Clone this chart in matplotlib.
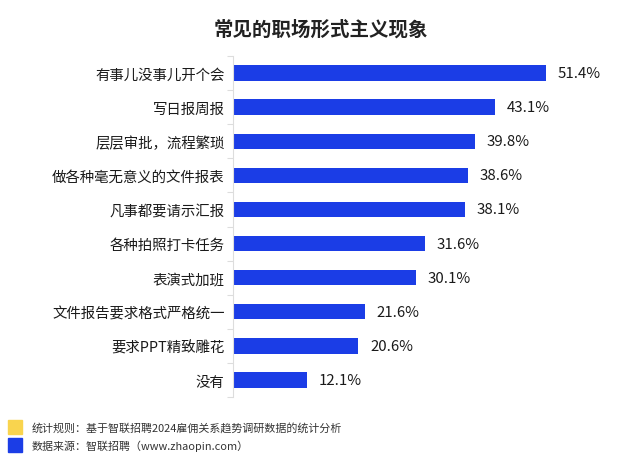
import matplotlib.pyplot as plt
import numpy as np

plt.rcParams['font.family'] = ['Noto Sans CJK SC', 'DejaVu Sans']

categories = ['有事儿没事儿开个会', '写日报周报', '层层审批，流程繁琐', '做各种毫无意义的文件报表',
              '凡事都要请示汇报', '各种拍照打卡任务', '表演式加班', '文件报告要求格式严格统一',
              '要求PPT精致雕花', '没有']
values = [51.4, 43.1, 39.8, 38.6, 38.1, 31.6, 30.1, 21.6, 20.6, 12.1]

blue = '#1b3de6'

fig = plt.figure(figsize=(6.41, 4.56), dpi=100)
ax = fig.add_axes([0.3635, 0.127, 0.57, 0.748])

y = np.arange(len(categories))
ax.barh(y, values, height=0.45, color=blue)
for yi, v in zip(y, values):
    ax.text(v + 1.9, yi, f'{v}%', va='center', ha='left', fontsize=10.8, color='#1a1a1a')

ax.set_yticks(y)
ax.set_yticklabels(categories, fontsize=10.4, color='#1a1a1a')
ax.set_yticks(np.arange(-0.5, len(categories), 1), minor=True)
ax.tick_params(axis='y', which='major', length=0, pad=6)
ax.tick_params(axis='y', which='minor', length=4, color='#dddddd', width=0.8)
ax.set_ylim(len(categories) - 0.5, -0.5)
ax.set_xlim(0, 60)
ax.set_xticks([])
for s in ['top', 'right', 'bottom']:
    ax.spines[s].set_visible(False)
ax.spines['left'].set_color('#dddddd')
ax.spines['left'].set_linewidth(0.8)

fig.text(0.5, 0.934, '常见的职场形式主义现象', ha='center', va='center',
         fontsize=14, fontweight='bold', color='#222222')

fig.patches.append(plt.Rectangle((0.0125, 0.046), 0.022, 0.031, transform=fig.transFigure,
                                 color='#f9d44e', figure=fig))
fig.patches.append(plt.Rectangle((0.0125, 0.007), 0.022, 0.031, transform=fig.transFigure,
                                 color=blue, figure=fig))
fig.text(0.05, 0.0614, '统计规则：基于智联招聘2024雇佣关系趋势调研数据的统计分析',
         ha='left', va='center', fontsize=7.9, color='#333333')
fig.text(0.05, 0.022, '数据来源：智联招聘（www.zhaopin.com）',
         ha='left', va='center', fontsize=7.9, color='#333333')

fig.savefig('out.png', dpi=100, facecolor='white')
